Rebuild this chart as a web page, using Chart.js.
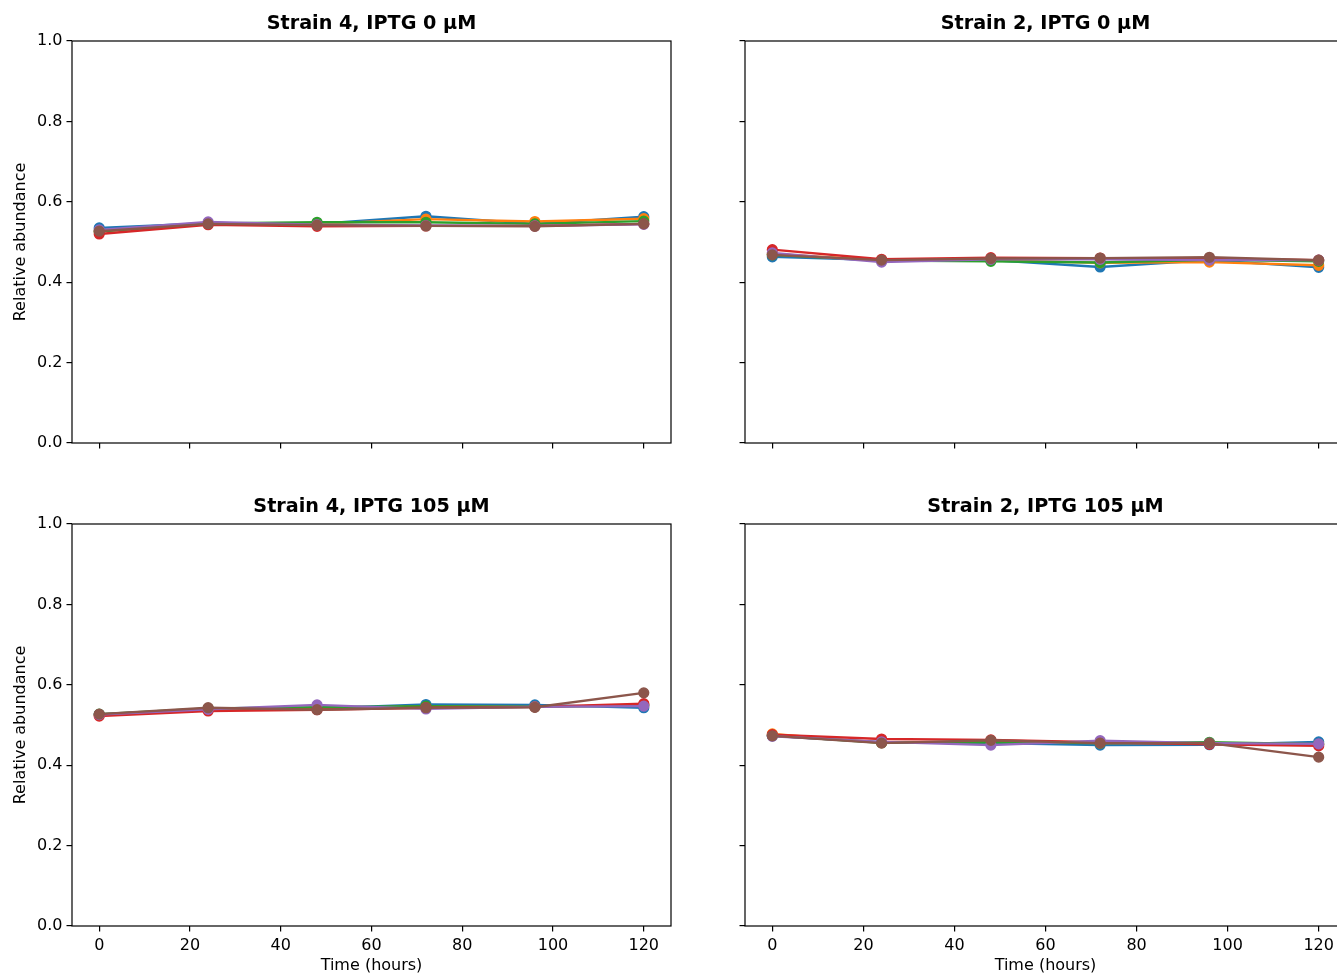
<!DOCTYPE html>
<html>
<head>
<meta charset="utf-8">
<script src="https://cdn.jsdelivr.net/npm/chart.js@4.4.0/dist/chart.umd.min.js"></script>
<style>
  html, body { margin: 0; padding: 0; background: #fff; overflow: hidden; }
  body { width: 1337px; height: 975px; position: relative; }
  canvas { position: absolute; }
</style>
</head>
<body>
<canvas id="c1" width="700" height="483" style="left:0px;top:0px"></canvas>
<canvas id="c2" width="700" height="483" style="left:673px;top:0px"></canvas>
<canvas id="c3" width="700" height="492" style="left:0px;top:483px"></canvas>
<canvas id="c4" width="700" height="492" style="left:673px;top:483px"></canvas>
<script>
// time points (hours)
const timeHours = [0, 24, 48, 72, 96, 120];

// one row per replicate series: blue, orange, green, red, purple, brown
const strain4Iptg0 = [
  [0.535, 0.547, 0.545, 0.564, 0.545, 0.563],
  [0.527, 0.545, 0.545, 0.557, 0.551, 0.558],
  [0.526, 0.546, 0.549, 0.549, 0.545, 0.552],
  [0.520, 0.543, 0.539, 0.540, 0.540, 0.545],
  [0.530, 0.550, 0.543, 0.541, 0.540, 0.544],
  [0.527, 0.545, 0.542, 0.540, 0.539, 0.545]
];
const strain2Iptg0 = [
  [0.463, 0.455, 0.455, 0.438, 0.455, 0.437],
  [0.470, 0.455, 0.455, 0.448, 0.450, 0.442],
  [0.468, 0.454, 0.452, 0.449, 0.456, 0.452],
  [0.481, 0.457, 0.461, 0.460, 0.459, 0.455],
  [0.473, 0.450, 0.457, 0.457, 0.455, 0.455],
  [0.468, 0.455, 0.459, 0.460, 0.462, 0.455]
];
const strain4Iptg105 = [
  [0.526, 0.540, 0.541, 0.551, 0.550, 0.543],
  [0.525, 0.540, 0.542, 0.546, 0.545, 0.550],
  [0.527, 0.541, 0.544, 0.547, 0.545, 0.549],
  [0.522, 0.535, 0.538, 0.543, 0.545, 0.553],
  [0.526, 0.539, 0.550, 0.540, 0.545, 0.547],
  [0.527, 0.543, 0.538, 0.543, 0.544, 0.580]
];
const strain2Iptg105 = [
  [0.473, 0.457, 0.455, 0.450, 0.451, 0.458],
  [0.478, 0.456, 0.458, 0.455, 0.455, 0.452],
  [0.474, 0.456, 0.457, 0.455, 0.457, 0.452],
  [0.476, 0.465, 0.463, 0.457, 0.452, 0.448],
  [0.472, 0.458, 0.450, 0.461, 0.455, 0.453],
  [0.473, 0.455, 0.462, 0.455, 0.455, 0.420]
];

const seriesColors = ['#1f77b4', '#ff7f0e', '#2ca02c', '#d62728', '#9467bd', '#8c564b'];
const panelTitles = ['Strain 4, IPTG 0 µM', 'Strain 2, IPTG 0 µM', 'Strain 4, IPTG 105 µM', 'Strain 2, IPTG 105 µM'];
const xTickValues = [0, 20, 40, 60, 80, 100, 120];
const yTickValues = [0, 0.2, 0.4, 0.6, 0.8, 1.0];

const FONT = "'DejaVu Sans', sans-serif";

// matplotlib-style closed frame around the plot area
const framePlugin = {
  id: 'frame',
  afterDatasetsDraw(chart) {
    const { ctx, chartArea: a } = chart;
    ctx.save();
    ctx.strokeStyle = '#000';
    ctx.lineWidth = 1.2;
    ctx.strokeRect(a.left, a.top, a.right - a.left, a.bottom - a.top);
    ctx.restore();
  }
};

function tickGrid() {
  return { drawOnChartArea: false, drawTicks: true, tickLength: 5.5, color: '#000', lineWidth: 1.2 };
}

function makeChart(id, title, rows, showXLabels, showYLabels, xHeight, rightPad) {
  const datasets = rows.map((vals, i) => ({
    label: 'series ' + (i + 1),
    data: timeHours.map((t, j) => ({ x: t, y: vals[j] })),
    borderColor: seriesColors[i],
    backgroundColor: seriesColors[i],
    pointBackgroundColor: seriesColors[i],
    pointBorderColor: seriesColors[i],
    pointRadius: 4.8,
    pointBorderWidth: 1.6,
    borderWidth: 2.4,
    tension: 0,
    order: rows.length - 1 - i
  }));

  new Chart(document.getElementById(id), {
    type: 'line',
    data: { datasets },
    plugins: [framePlugin],
    options: {
      responsive: false,
      animation: false,
      devicePixelRatio: 1,
      layout: { padding: { left: 0, right: rightPad, top: 0, bottom: 0 } },
      plugins: {
        legend: { display: false },
        tooltip: { enabled: false },
        title: {
          display: true,
          fullSize: false,
          text: title,
          color: '#000',
          font: { family: FONT, size: 19.2, weight: 'bold' },
          padding: { top: 12.5, bottom: 5.46 }
        }
      },
      scales: {
        x: {
          type: 'linear',
          min: -6,
          max: 126,
          afterBuildTicks(s) { s.ticks = xTickValues.map(v => ({ value: v })); },
          ticks: {
            display: showXLabels,
            padding: 4.5,
            color: '#000',
            font: { family: FONT, size: 16 },
            callback: v => String(v)
          },
          grid: tickGrid(),
          border: { display: false },
          title: {
            display: showXLabels,
            text: 'Time (hours)',
            color: '#000',
            font: { family: FONT, size: 16 },
            padding: { top: 0, bottom: 0 }
          },
          afterFit(s) { s.height = xHeight; }
        },
        y: {
          min: 0,
          max: 1,
          afterBuildTicks(s) { s.ticks = yTickValues.map(v => ({ value: v })); },
          ticks: {
            display: showYLabels,
            padding: 4,
            color: '#000',
            font: { family: FONT, size: 16 },
            callback: v => Number(v).toFixed(1)
          },
          grid: tickGrid(),
          border: { display: false },
          title: {
            display: showYLabels,
            text: 'Relative abundance',
            color: '#000',
            font: { family: FONT, size: 16 },
            padding: { top: 11.5, bottom: 0 }
          },
          afterFit(s) { s.width = 72; }
        }
      }
    }
  });
}

makeChart('c1', panelTitles[0], strain4Iptg0, false, true, 40, 29);
makeChart('c2', panelTitles[1], strain2Iptg0, false, false, 40, 27);
makeChart('c3', panelTitles[2], strain4Iptg105, true, true, 49, 29);
makeChart('c4', panelTitles[3], strain2Iptg105, true, false, 49, 27);
</script>
</body>
</html>
